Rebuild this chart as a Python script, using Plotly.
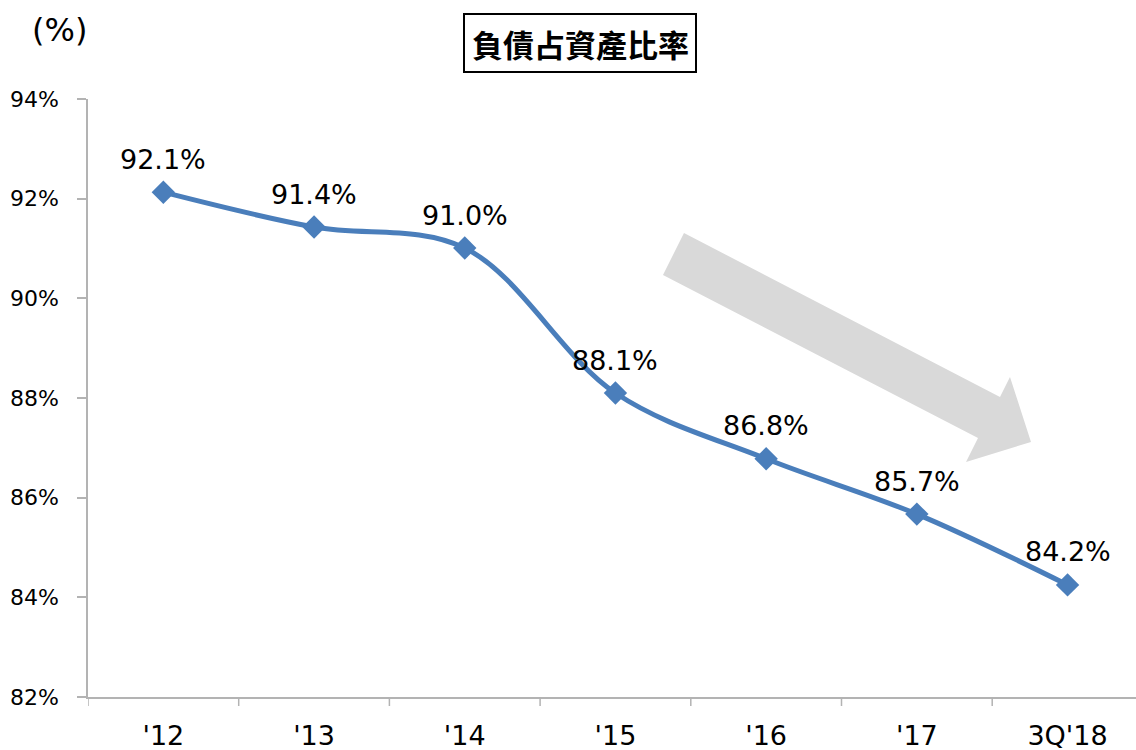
import plotly.graph_objects as go

categories = ["'12", "'13", "'14", "'15", "'16", "'17", "3Q'18"]
values = [92.13, 91.43, 91.01, 88.10, 86.78, 85.67, 84.25]
labels = ["92.1%", "91.4%", "91.0%", "88.1%", "86.8%", "85.7%", "84.2%"]
y_ticks = [82, 84, 86, 88, 90, 92, 94]
y_ticktext = [f"{v}%" for v in y_ticks]
title_text = "負債占資產比率"
unit_text = "(%)"

W, H = 1136, 750
ML, MR, MT, MB = 88, 0, 99, 53
PW, PH = W - ML - MR, H - MT - MB
LINE_COLOR = "#4a7ebb"
AXIS_COLOR = "#b3b3b3"
FONT = "DejaVu Sans"

# x range: categories are 150.7 px apart; the plot runs off the right edge
step = 150.7
x_range = [-0.5, -0.5 + PW / step]


def px(x):
    return (x - ML) / PW


def py(y):
    return (H - MB - y) / PH


fig = go.Figure()
fig.add_trace(go.Scatter(
    x=list(range(len(categories))),
    y=values,
    mode="lines+markers",
    line=dict(color=LINE_COLOR, width=5, shape="spline", smoothing=1.0),
    marker=dict(symbol="diamond", size=18, color=LINE_COLOR),
    hoverinfo="skip",
    showlegend=False,
    cliponaxis=False,
))

for i, (v, t) in enumerate(zip(values, labels)):
    fig.add_annotation(x=i, y=v, text=t, showarrow=False, yshift=33,
                       font=dict(family=FONT, size=27, color="black"))

# decorative block arrow (pixel outline converted to paper coords)
arrow_px = [(684, 233), (1000, 397), (1010, 377), (1031, 442),
            (966, 462), (978, 438), (663, 275)]
path = "M " + " L ".join(f"{px(a):.5f},{py(b):.5f}" for a, b in arrow_px) + " Z"
fig.add_shape(type="path", path=path, xref="paper", yref="paper",
              fillcolor="#d9d9d9", line=dict(width=0), layer="below")

# title box
fig.add_shape(type="rect", xref="paper", yref="paper",
              x0=px(464), x1=px(696), y0=py(72), y1=py(14),
              line=dict(color="black", width=2), fillcolor="white")
fig.add_annotation(xref="paper", yref="paper", x=px(580), y=py(44),
                   text=f"<b>{title_text}</b>", showarrow=False,
                   xanchor="center", yanchor="middle",
                   font=dict(family="Noto Sans CJK TC", size=31, color="black"))
fig.add_annotation(xref="paper", yref="paper", x=px(59), y=py(30),
                   text=unit_text, showarrow=False,
                   xanchor="center", yanchor="middle",
                   font=dict(family=FONT, size=32, color="black"))

fig.update_layout(
    width=W, height=H,
    margin=dict(l=ML, r=MR, t=MT, b=MB),
    paper_bgcolor="white", plot_bgcolor="white",
    font=dict(family=FONT, color="black"),
    xaxis=dict(
        range=x_range,
        tickmode="array",
        tickvals=list(range(len(categories))),
        ticktext=categories,
        showgrid=False, zeroline=False,
        showline=True, linecolor=AXIS_COLOR, linewidth=1.5,
        ticks="", tickfont=dict(size=27),
        ticklabelstandoff=14,
    ),
    yaxis=dict(
        range=[82, 94],
        tickmode="array", tickvals=y_ticks, ticktext=y_ticktext,
        showgrid=False, zeroline=False,
        showline=True, linecolor=AXIS_COLOR, linewidth=1.5,
        ticks="outside", ticklen=9, tickcolor=AXIS_COLOR, tickwidth=1.5,
        tickfont=dict(size=22),
        ticklabelstandoff=14,
    ),
)

# category boundary tick marks on the x axis
for b in range(len(categories) + 1):
    xb = b - 0.5
    fig.add_shape(type="line", xref="x", yref="paper", x0=xb, x1=xb,
                  y0=0, y1=-9 / PH, line=dict(color=AXIS_COLOR, width=1.5))

fig.write_html("out.html")
